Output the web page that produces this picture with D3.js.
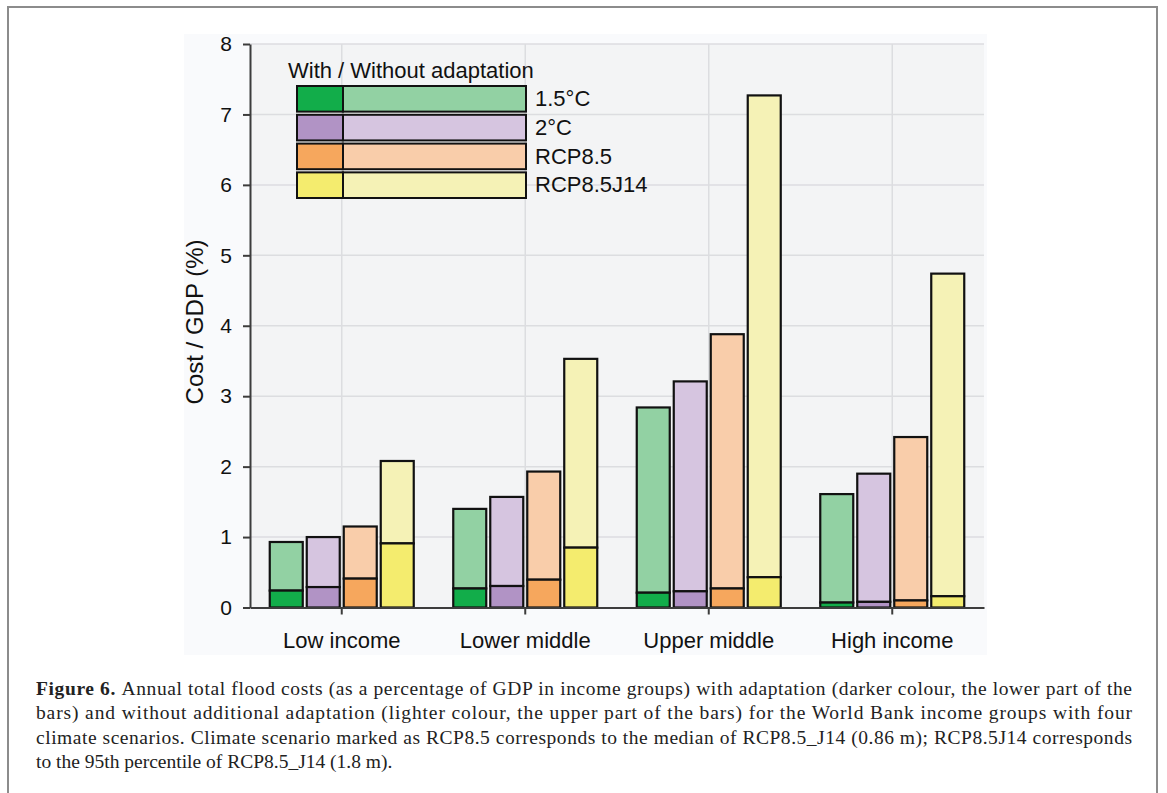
<!DOCTYPE html>
<html>
<head>
<meta charset="utf-8">
<script src="https://cdn.jsdelivr.net/npm/d3@7"></script>
<style>
  body { margin: 0; background: #fff; }
  svg { display: block; }
</style>
</head>
<body>
<div id="chart"></div>
<script>
// categories and scenarios
var categories = ["Low income", "Lower middle", "Upper middle", "High income"];
var scenarios = ["1.5°C", "2°C", "RCP8.5", "RCP8.5J14"];
var yTicks = [0, 1, 2, 3, 4, 5, 6, 7, 8];

// cost / GDP (%) with adaptation (lower part), per income group
var with15 = [0.24, 0.27, 0.21, 0.07];
var with2 = [0.29, 0.305, 0.23, 0.08];
var withRcp = [0.41, 0.395, 0.27, 0.10];
var withJ14 = [0.91, 0.85, 0.43, 0.16];

// cost / GDP (%) without additional adaptation (top of bar)
var without15 = [0.93, 1.40, 2.84, 1.61];
var without2 = [1.00, 1.57, 3.21, 1.90];
var withoutRcp = [1.15, 1.93, 3.88, 2.42];
var withoutJ14 = [2.08, 3.53, 7.27, 4.74];

var darkColors = ["#12ad4a", "#b193c5", "#f6a75d", "#f4ec6e"];
var lightColors = ["#92d1a3", "#d6c5e0", "#f9cdaa", "#f5f2b6"];

var withSeries = [with15, with2, withRcp, withJ14];
var withoutSeries = [without15, without2, withoutRcp, withoutJ14];

var captionLines = [
  "Annual total flood costs (as a percentage of GDP in income groups) with adaptation (darker colour, the lower part of the",
  "bars) and without additional adaptation (lighter colour, the upper part of the bars) for the World Bank income groups with four",
  "climate scenarios. Climate scenario marked as RCP8.5 corresponds to the median of RCP8.5_J14 (0.86 m); RCP8.5J14 corresponds",
  "to the 95th percentile of RCP8.5_J14 (1.8 m)."
];

var width = 1167, height = 793;
var font = "'Liberation Sans', Arial, sans-serif";

var svg = d3.select("#chart").append("svg")
  .attr("width", width)
  .attr("height", height);

// outer frame
svg.append("path")
  .attr("d", "M8,800 V7 H1157 V800")
  .attr("fill", "none")
  .attr("stroke", "#8c8c8c")
  .attr("stroke-width", 2);

// figure panel
svg.append("rect")
  .attr("x", 184).attr("y", 34)
  .attr("width", 803).attr("height", 621)
  .attr("fill", "#f9fafc");

var x0 = d3.scaleBand().domain(categories).range([250, 984]);
var x1 = d3.scaleBand().domain(scenarios).range([0, x0.bandwidth()])
  .paddingInner(0.108).paddingOuter(0.534);
var y = d3.scaleLinear().domain([0, 8]).range([607.5, 44]);

// plot background
svg.append("rect")
  .attr("x", 250).attr("y", y(8))
  .attr("width", 984 - 250).attr("height", y(0) - y(8))
  .attr("fill", "#f3f4f5");

// grid
svg.append("g").selectAll("line").data(yTicks.slice(1)).enter().append("line")
  .attr("x1", 250).attr("x2", 984)
  .attr("y1", function(d) { return y(d); })
  .attr("y2", function(d) { return y(d); })
  .attr("stroke", "#dcdde0")
  .attr("stroke-width", 1.5);
svg.append("g").selectAll("line").data(categories).enter().append("line")
  .attr("x1", function(d) { return x0(d) + x0.bandwidth() / 2; })
  .attr("x2", function(d) { return x0(d) + x0.bandwidth() / 2; })
  .attr("y1", y(8)).attr("y2", y(0))
  .attr("stroke", "#dcdde0")
  .attr("stroke-width", 1.5);

// bars
var groups = svg.append("g").selectAll("g").data(categories).enter().append("g")
  .attr("transform", function(d) { return "translate(" + x0(d) + ",0)"; });

groups.each(function(cat, ci) {
  var g = d3.select(this);
  var rows = scenarios.map(function(s, si) {
    return {s: s, si: si, w: withSeries[si][ci], wo: withoutSeries[si][ci]};
  });
  g.selectAll("rect.top").data(rows).enter().append("rect")
    .attr("class", "top")
    .attr("x", function(d) { return x1(d.s); })
    .attr("y", function(d) { return y(d.wo); })
    .attr("width", x1.bandwidth())
    .attr("height", function(d) { return y(d.w) - y(d.wo); })
    .attr("fill", function(d) { return lightColors[d.si]; })
    .attr("stroke", "#111")
    .attr("stroke-width", 2.2);
  g.selectAll("rect.low").data(rows).enter().append("rect")
    .attr("class", "low")
    .attr("x", function(d) { return x1(d.s); })
    .attr("y", function(d) { return y(d.w); })
    .attr("width", x1.bandwidth())
    .attr("height", function(d) { return y(0) - y(d.w); })
    .attr("fill", function(d) { return darkColors[d.si]; })
    .attr("stroke", "#111")
    .attr("stroke-width", 2.2);
});

// axes
var yAxis = svg.append("g")
  .attr("transform", "translate(250,0)")
  .call(d3.axisLeft(y).tickValues(yTicks).tickSize(7).tickSizeOuter(0).tickPadding(11));
var xAxis = svg.append("g")
  .attr("transform", "translate(0," + y(0) + ")")
  .call(d3.axisBottom(x0).tickSize(7).tickSizeOuter(0).tickPadding(18));

[yAxis, xAxis].forEach(function(ax) {
  ax.select(".domain").attr("stroke", "#3c3c3c").attr("stroke-width", 2);
  ax.selectAll(".tick line").attr("stroke", "#3c3c3c").attr("stroke-width", 2);
  ax.selectAll("text")
    .attr("font-family", font)
    .attr("fill", "#111");
});
yAxis.selectAll("text").attr("font-size", 21);
xAxis.selectAll("text").attr("font-size", 22);

svg.append("text")
  .attr("transform", "translate(203,322) rotate(-90)")
  .attr("text-anchor", "middle")
  .attr("font-family", font)
  .attr("font-size", 24)
  .attr("fill", "#111")
  .text("Cost / GDP (%)");

// legend
var legend = svg.append("g");
legend.append("text")
  .attr("x", 288).attr("y", 78)
  .attr("font-family", font)
  .attr("font-size", 22)
  .attr("fill", "#111")
  .text("With / Without adaptation");

var legendRow = d3.scaleBand().domain(scenarios).range([86, 198]).paddingInner(0.11);
var items = legend.selectAll("g.item").data(scenarios).enter().append("g")
  .attr("class", "item")
  .attr("transform", function(d) { return "translate(0," + legendRow(d) + ")"; });
items.append("rect")
  .attr("x", 297).attr("width", 46)
  .attr("height", legendRow.bandwidth())
  .attr("fill", function(d, i) { return darkColors[i]; })
  .attr("stroke", "#111").attr("stroke-width", 2);
items.append("rect")
  .attr("x", 343).attr("width", 183)
  .attr("height", legendRow.bandwidth())
  .attr("fill", function(d, i) { return lightColors[i]; })
  .attr("stroke", "#111").attr("stroke-width", 2);
items.append("text")
  .attr("x", 535).attr("y", 20)
  .attr("font-family", font)
  .attr("font-size", 22)
  .attr("fill", "#111")
  .text(function(d) { return d; });

// caption
var captionFont = "'Liberation Serif', 'Times New Roman', serif";
var cap = svg.append("g");
captionLines.forEach(function(line, i) {
  var t = cap.append("text")
    .attr("x", 36)
    .attr("y", 695 + i * 24.3)
    .attr("font-family", captionFont)
    .attr("font-size", 19.5)
    .attr("fill", "#222");
  if (i === 0) {
    t.append("tspan").attr("font-weight", "bold").text("Figure 6. ");
  }
  t.append("tspan").text(line);
  if (i < captionLines.length - 1) {
    t.attr("textLength", 1096).attr("lengthAdjust", "spacing");
  }
});
</script>
</body>
</html>
